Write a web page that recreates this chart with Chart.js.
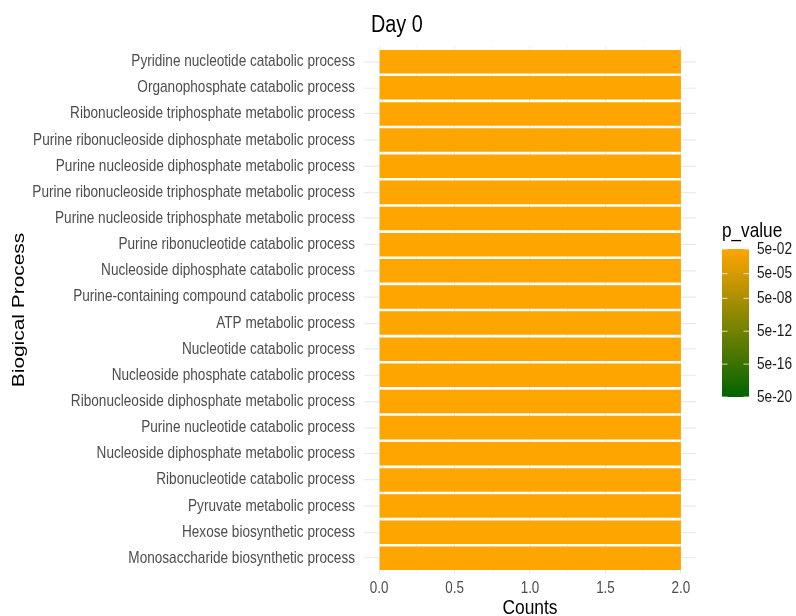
<!DOCTYPE html>
<html>
<head>
<meta charset="utf-8">
<script src="https://cdn.jsdelivr.net/npm/chart.js@4"></script>
<style>
html,body{margin:0;padding:0;background:#fff;overflow:hidden;}
#wrap{width:796px;height:616px;position:relative;}
canvas{display:block;}
</style>
</head>
<body>
<div id="wrap"><canvas id="c" width="796" height="513" style="width:796px;height:513px"></canvas></div>
<script>
// ---- data ----
const categories = [
  "Pyridine nucleotide catabolic process",
  "Organophosphate catabolic process",
  "Ribonucleoside triphosphate metabolic process",
  "Purine ribonucleoside diphosphate metabolic process",
  "Purine nucleoside diphosphate metabolic process",
  "Purine ribonucleoside triphosphate metabolic process",
  "Purine nucleoside triphosphate metabolic process",
  "Purine ribonucleotide catabolic process",
  "Nucleoside diphosphate catabolic process",
  "Purine-containing compound catabolic process",
  "ATP metabolic process",
  "Nucleotide catabolic process",
  "Nucleoside phosphate catabolic process",
  "Ribonucleoside diphosphate metabolic process",
  "Purine nucleotide catabolic process",
  "Nucleoside diphosphate metabolic process",
  "Ribonucleotide catabolic process",
  "Pyruvate metabolic process",
  "Hexose biosynthetic process",
  "Monosaccharide biosynthetic process"
];
const counts = [2,2,2,2,2,2,2,2,2,2,2,2,2,2,2,2,2,2,2,2];
const pValues = [0.05,0.05,0.05,0.05,0.05,0.05,0.05,0.05,0.05,0.05,0.05,0.05,0.05,0.05,0.05,0.05,0.05,0.05,0.05,0.05];
const xTicks = [0, 0.25, 0.5, 0.75, 1, 1.25, 1.5, 1.75, 2];
const xLabelTicks = [0, 0.5, 1, 1.5, 2];
const legendValues = [5e-2, 5e-5, 5e-8, 5e-12, 5e-16, 5e-20];
const legendLabels = ["5e-02", "5e-05", "5e-08", "5e-12", "5e-16", "5e-20"];
const pHigh = 5e-2, pLow = 5e-20;
const colorHigh = [255,165,0], colorLow = [0,100,0];

// the reference is stretched vertically relative to horizontally
const LOGICAL_H = 513;
const S = 616 / LOGICAL_H;

function pColor(p){
  const t = (Math.log10(p) - Math.log10(pLow)) / (Math.log10(pHigh) - Math.log10(pLow));
  const c = colorLow.map((l,i)=>Math.round(l + (colorHigh[i]-l)*Math.max(0,Math.min(1,t))));
  return `rgb(${c[0]},${c[1]},${c[2]})`;
}

const FONT = "'Liberation Sans', Arial, sans-serif";

const stretch = {
  id: 'stretch',
  beforeDraw(chart){ chart.ctx.setTransform(1, 0, 0, S, 0, 0); }
};

const extras = {
  id: 'extras',
  afterDraw(chart){
    const ctx = chart.ctx;
    const ca = chart.chartArea;
    ctx.save();
    // title
    ctx.fillStyle = '#000';
    ctx.font = `19.8px ${FONT}`;
    ctx.textAlign = 'left';
    ctx.textBaseline = 'middle';
    ctx.fillText('Day 0', ca.left + 7, 25 / S);
    // legend
    const lx = 722, lw = 27, ltop = 249 / S, lbot = 397 / S;
    ctx.font = `17.2px ${FONT}`;
    ctx.fillText('p_value', lx, 231 / S);
    const g = ctx.createLinearGradient(0, ltop, 0, lbot);
    const steps = 10;
    for (let k = 0; k <= steps; k++) {
      const lp = Math.log10(pHigh) - (Math.log10(pHigh) - Math.log10(pLow)) * k / steps;
      g.addColorStop(k / steps, pColor(Math.pow(10, lp)));
    }
    ctx.fillStyle = g;
    ctx.fillRect(lx, ltop, lw, lbot - ltop);
    ctx.font = `13.7px ${FONT}`;
    const span = Math.log10(pHigh) - Math.log10(pLow);
    legendValues.forEach((v,i)=>{
      const y = ltop + (Math.log10(pHigh) - Math.log10(v)) / span * (lbot - ltop);
      ctx.strokeStyle = 'rgba(255,255,255,0.85)';
      ctx.lineWidth = 0.8;
      ctx.beginPath();
      ctx.moveTo(lx, y); ctx.lineTo(lx + 5.5, y);
      ctx.moveTo(lx + lw - 5.5, y); ctx.lineTo(lx + lw, y);
      ctx.stroke();
      ctx.fillStyle = '#1a1a1a';
      ctx.fillText(legendLabels[i], lx + lw + 8, y);
    });
    ctx.restore();
  }
};

const chart = new Chart(document.getElementById('c'), {
  type: 'bar',
  data: {
    datasets: [{
      data: counts.map((v,i)=>({x: v, y: i})),
      backgroundColor: pValues.map(pColor),
      borderWidth: 0,
      barPercentage: 0.9,
      categoryPercentage: 1.0
    }]
  },
  options: {
    indexAxis: 'y',
    responsive: false,
    animation: false,
    events: [],
    layout: { padding: { top: 46 / S, right: 100, left: 0, bottom: 0 } },
    plugins: { legend: { display: false }, tooltip: { enabled: false }, title: { display: false } },
    scales: {
      x: {
        type: 'linear',
        min: -0.1, max: 2.1,
        afterBuildTicks: s => { s.ticks = xTicks.map(v=>({value: v})); },
        afterFit: s => { s.height = (616 - 574) / S; },
        border: { display: false },
        grid: {
          drawTicks: false,
          color: '#EBEBEB',
          lineWidth: c => xLabelTicks.includes(c.tick.value) ? 1.1 : 0.55
        },
        ticks: {
          padding: 4.5,
          color: '#4D4D4D',
          font: { family: FONT, size: 13.4 },
          autoSkip: false,
          maxRotation: 0,
          callback: v => xLabelTicks.includes(v) ? v.toFixed(1) : ''
        },
        title: { display: true, text: 'Counts', color: '#000', font: { family: FONT, size: 17.4, lineHeight: 0.75 }, padding: { top: 0, bottom: 0 } }
      },
      y: {
        type: 'linear',
        reverse: true,
        offset: false,
        min: -0.6, max: categories.length - 0.4,
        afterBuildTicks: s => { s.ticks = categories.map((c,i)=>({value: i})); },
        afterFit: s => { s.width = 364; },
        border: { display: false },
        grid: { drawTicks: false, offset: false, color: '#EBEBEB', lineWidth: 1 },
        ticks: {
          padding: 9,
          color: '#4D4D4D',
          font: { family: FONT, size: 13.6 },
          autoSkip: false,
          callback: v => categories[v]
        },
        title: { display: true, text: 'Biogical Process', color: '#000', font: { family: FONT, size: 17.4 }, padding: { top: 9, bottom: 0 } }
      }
    }
  },
  plugins: [stretch, extras]
});

// enlarge the backing store to the full page height and redraw with the vertical stretch
const cv = chart.canvas;
cv.height = 616;
cv.style.height = '616px';
chart.draw();
</script>
</body>
</html>
